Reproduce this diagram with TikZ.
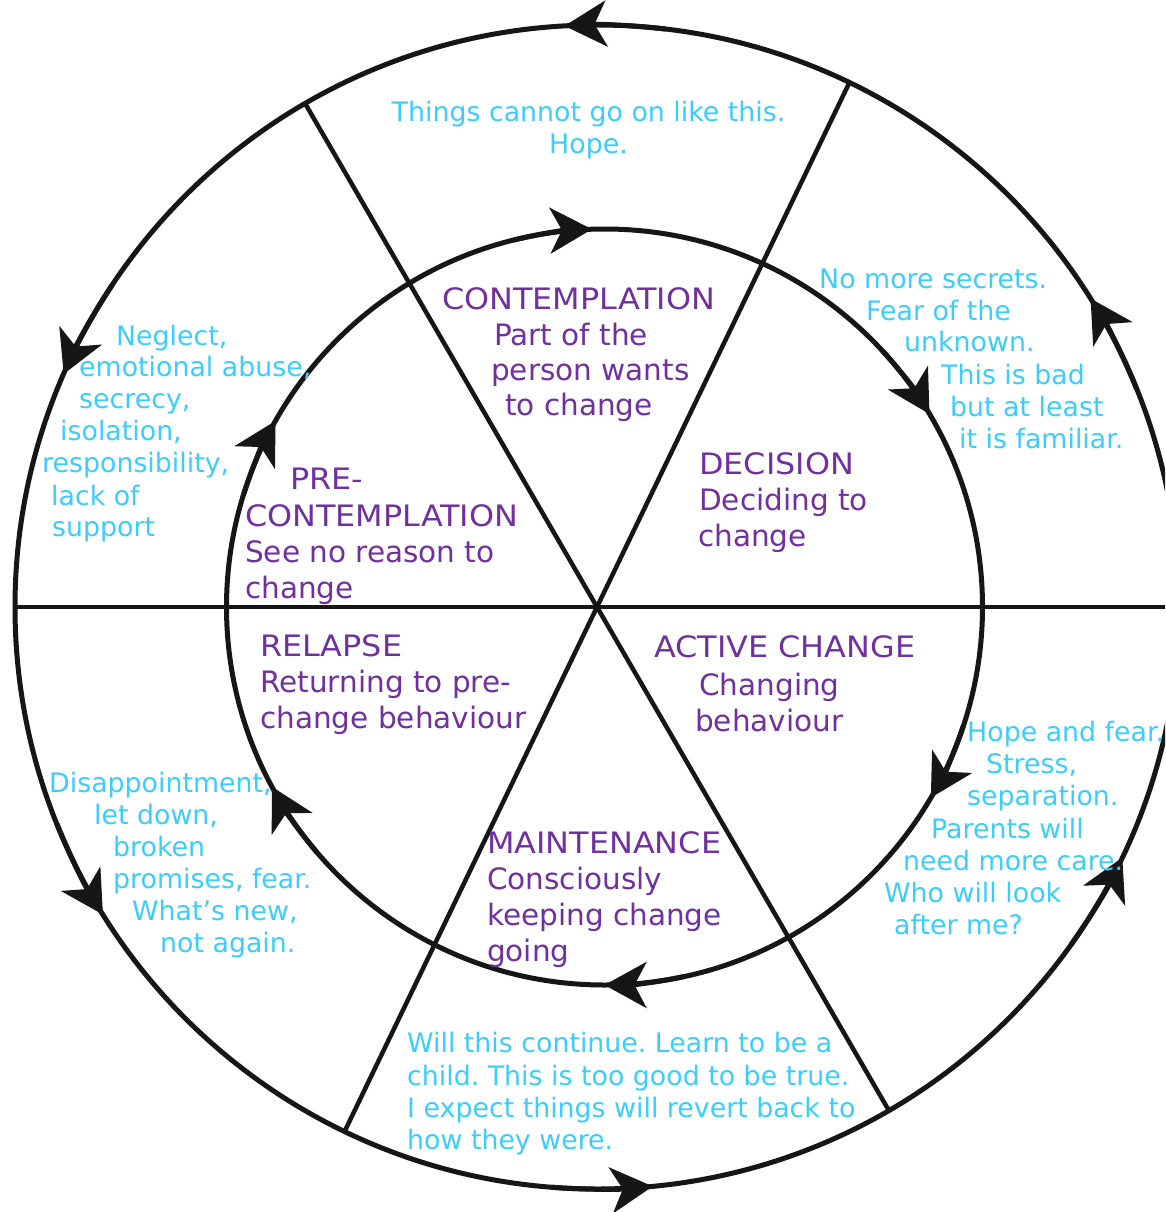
\documentclass[tikz,border=0pt]{standalone}
\usepackage{fontspec}
\setmainfont{DejaVu Sans}
\usepackage{graphicx}
\usetikzlibrary{arrows.meta}
\definecolor{cyantxt}{RGB}{60,205,255}
\definecolor{purptxt}{RGB}{112,48,160}
\definecolor{ink}{RGB}{22,22,22}
\newcommand\capsx[1]{\scalebox{1.08}[1]{#1}}
\frenchspacing
\begin{document}
\begin{tikzpicture}[x=1pt,y=1pt,
  ring/.style={line width=5pt, draw=ink},
  spoke/.style={line width=4.5pt, draw=ink},
  tipa/.style={line width=5pt, draw=ink, fill=ink, -{Stealth[length=42pt,width=46pt,inset=12pt]}},
  ctext/.style={text=cyantxt, font=\fontsize{26.8}{32}\selectfont, inner sep=0pt, anchor=base west},
  ctextc/.style={ctext, anchor=base},
  ptext/.style={text=purptxt, font=\fontsize{29.5}{36}\selectfont, inner sep=0pt, anchor=base west},
]
\useasboundingbox (0,0) rectangle (1165,-1212);
\clip (0,0) rectangle (1165,-1212);
\fill[white] (0,0) rectangle (1165,-1212);

\coordinate (C) at (597,-607);
\coordinate (Ci) at (604.5,-607);
\def\Ro{582}
\def\Ri{378}

% spokes
\path (C) ++(180:\Ro) coordinate (h1) (C) ++(0:\Ro) coordinate (h2);
\path (C) ++(120.1:\Ro) coordinate (p1) (C) ++(-59.9:\Ro) coordinate (p2);
\path (C) ++(64.3:\Ro) coordinate (q1) (C) ++(244.3:\Ro) coordinate (q2);
\draw[spoke] (h1) -- (h2);
\draw[spoke] (p1) -- (p2);
\draw[spoke] (q1) -- (q2);

% circles
\draw[ring] (C) circle[radius=\Ro];
\draw[ring] (Ci) circle[radius=\Ri];

% outer arrows (counter-clockwise)
\foreach \a in {32,93.2,156.4,211.9,275.5,334.5}{
  \draw[tipa] (C) ++(\a-10:\Ro) arc[start angle=\a-10, end angle=\a, radius=\Ro];
}
% inner arrows (clockwise)
\foreach \a in {91.9,30.7,-30.3,270,208.4,150.5}{
  \draw[tipa] (Ci) ++(\a+12:\Ri) arc[start angle=\a+12, end angle=\a, radius=\Ri];
}

% cyan texts
\node[ctextc] (a1) at (588.5,-121.7) {Things cannot go on like this.};
\node[ctextc] (a2) at (588.5,-153.3) {Hope.};

\node[ctext] (b1) at (819,-288.3) {No more secrets.};
\node[ctext] (b2) at (866,-320) {Fear of the};
\node[ctext] (b3) at (904,-351.7) {unknown.};
\node[ctext] (b4) at (941,-384) {This is bad};
\node[ctext] (b5) at (950,-416) {but at least};
\node[ctext] (b6) at (959,-448.3) {it is familiar.};

\node[ctext] (c1) at (116,-345) {Neglect,};
\node[ctext] (c2) at (79,-376.7) {emotional abuse,};
\node[ctext] (c3) at (79,-408.3) {secrecy,};
\node[ctext] (c4) at (60,-440) {isolation,};
\node[ctext] (c5) at (42,-472.7) {responsibility,};
\node[ctext] (c6) at (51,-505) {lack of};
\node[ctext] (c7) at (52,-536.7) {support};

\node[ctext] (d1) at (967,-741.7) {Hope and fear.};
\node[ctext] (d2) at (986,-773.3) {Stress,};
\node[ctext] (d3) at (967,-805.7) {separation.};
\node[ctext] (d4) at (931,-838.3) {Parents will};
\node[ctext] (d5) at (903,-870.7) {need more care.};
\node[ctext] (d6) at (884,-902.7) {Who will look};
\node[ctext] (d7) at (894,-934) {after me?};

\node[ctext] (e1) at (49,-792.7) {Disappointment,};
\node[ctext] (e2) at (94,-824) {let down,};
\node[ctext] (e3) at (113,-856) {broken};
\node[ctext] (e4) at (113,-888.3) {promises, fear.};
\node[ctext] (e5) at (132,-920) {What’s new,};
\node[ctext] (e6) at (160,-952.7) {not again.};

\node[ctext] (f1) at (407,-1052.7) {Will this continue. Learn to be a};
\node[ctext] (f2) at (407,-1085) {child. This is too good to be true.};
\node[ctext] (f3) at (407,-1117) {I expect things will revert back to};
\node[ctext] (f4) at (407,-1149) {how they were.};

% purple texts
\node[ptext] (g1) at (442,-309.3) {\capsx{CONTEMPLATION}};
\node[ptext] (g2) at (494,-345) {Part of the};
\node[ptext] (g3) at (491,-380) {person wants};
\node[ptext] (g4) at (505,-415) {to change};

\node[ptext] (h1t) at (699,-474) {\capsx{DECISION}};
\node[ptext] (h2t) at (699,-510) {Deciding to};
\node[ptext] (h3t) at (698,-546) {change};

\node[ptext] (i1) at (290,-489) {\capsx{PRE-}};
\node[ptext] (i2) at (245,-526) {\capsx{CONTEMPLATION}};
\node[ptext] (i3) at (245,-562) {See no reason to};
\node[ptext] (i4) at (245,-598) {change};

\node[ptext] (j1) at (260,-656.7) {\capsx{RELAPSE}};
\node[ptext] (j2) at (260,-692.7) {Returning to pre-};
\node[ptext] (j3) at (260,-728.3) {change behaviour};

\node[ptext] (k1) at (654,-657) {\capsx{ACTIVE CHANGE}};
\node[ptext] (k2) at (699,-695) {Changing};
\node[ptext] (k3) at (695,-731) {behaviour};

\node[ptext] (l1) at (487,-853) {\capsx{MAINTENANCE}};
\node[ptext] (l2) at (487,-889) {Consciously};
\node[ptext] (l3) at (487,-925) {keeping change};
\node[ptext] (l4) at (487,-961) {going};
\end{tikzpicture}
\end{document}
